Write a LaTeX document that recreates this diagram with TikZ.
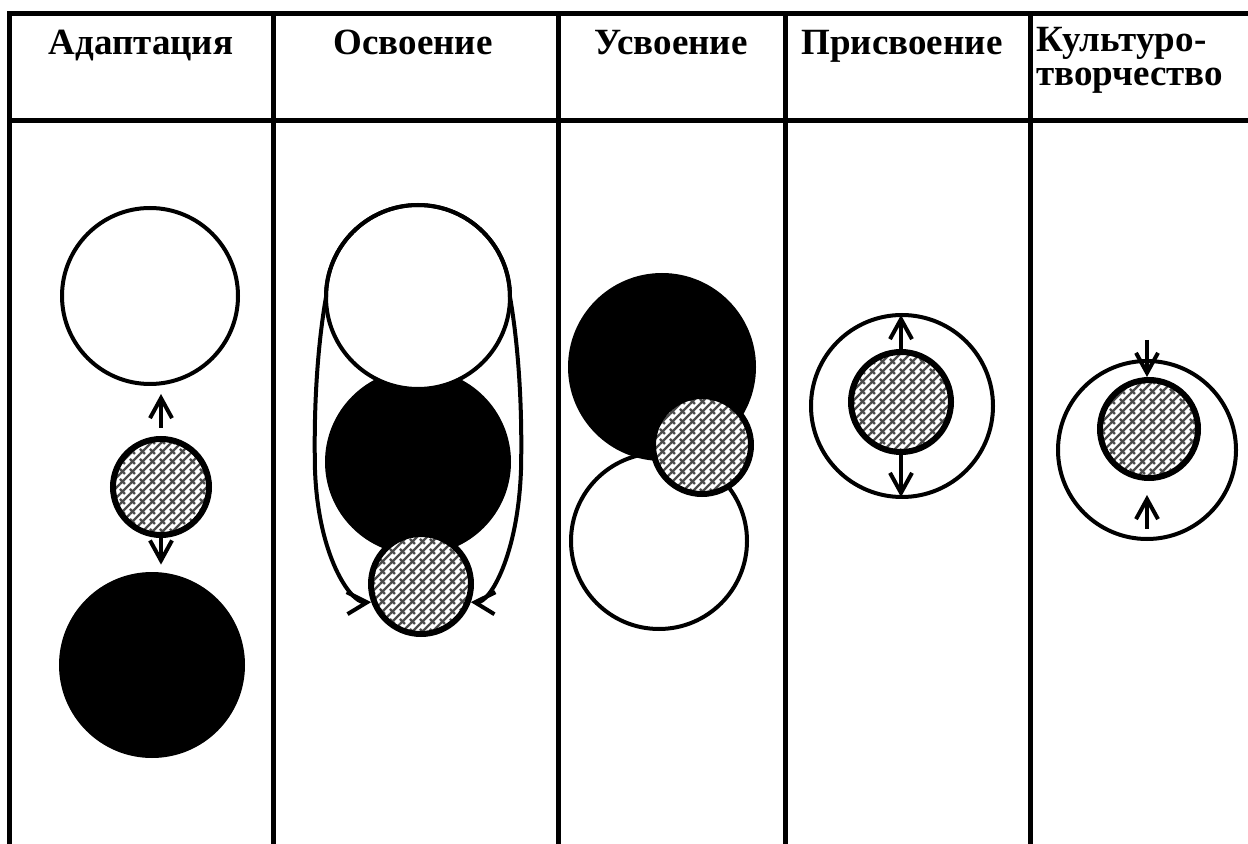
\documentclass[tikz,border=0pt]{standalone}
\usepackage{fontspec}
\setmainfont{Liberation Serif}
\usetikzlibrary{arrows.meta,patterns}

\pgfdeclarepatternformonly{weave}{\pgfqpoint{-1pt}{-1pt}}{\pgfqpoint{6pt}{6pt}}{\pgfqpoint{5pt}{5pt}}{%
  \pgfsetlinewidth{1.1pt}%
  \pgfpathmoveto{\pgfqpoint{0pt}{0pt}}\pgfpathlineto{\pgfqpoint{5pt}{5pt}}%
  \pgfpathmoveto{\pgfqpoint{2.5pt}{0pt}}\pgfpathlineto{\pgfqpoint{0pt}{2.5pt}}%
  \pgfusepath{stroke}}

\begin{document}
\begin{tikzpicture}[x=0.5pt,y=-0.5pt,
   >={Straight Barb[length=10pt,width=11pt]},
   rule/.style={line width=2.5pt},
   head/.style={font=\bfseries\fontsize{18.5}{17}\selectfont,inner sep=0pt},
   whitedisc/.style={circle,draw,line width=2pt,fill=white,inner sep=0pt,outer sep=0pt},
   blackdisc/.style={circle,fill=black,inner sep=0pt},
   weavedisc/.style={circle,draw,line width=3pt,inner sep=0pt,preaction={fill=white},pattern=weave,pattern color=black!70},
   ring/.style={circle,draw,line width=2pt,inner sep=0pt},
   link/.style={->,line width=2pt}]

         \useasboundingbox (0,0) rectangle (1248,844);

         % table
         \draw [rule] (7,14) -- (1248,14);
         \draw [rule] (7,121) -- (1248,121);
         \foreach \x in {9,273,558,785,1030} \draw [rule] (\x,12) -- (\x,844);

         \node [head,anchor=base] (t1) at (141,55) {Адаптация};
         \node [head,anchor=base] (t2) at (413,55) {Освоение};
         \node [head,anchor=base] (t3) at (671,55) {Усвоение};
         \node [head,anchor=base] (t4) at (902,55) {Присвоение};
         \node [head,anchor=north west,align=left] (t5) at (1036,27) {Культуро-\\творчество};

         % column 1
         \node [whitedisc,minimum size=88pt] (w1) at (150,296) {};
         \node [weavedisc,minimum size=48pt] (h1) at (161,487) {};
         \node [blackdisc,minimum size=93pt] (b1) at (152,665) {};
         \draw [link,shorten <=4pt,shorten >=5pt] (h1.north) -- (h1.north |- w1.south);
         \draw [link,shorten >=3.5pt] (h1.south) -- (h1.south |- b1.north);

         % column 2
         \node [blackdisc,minimum size=93pt] (b2) at (418,462) {};
         \node [whitedisc,minimum size=92pt] (w2) at (418,297) {};
         \node [weavedisc,minimum size=50pt] (h2) at (421,584) {};
         \draw [<->,line width=2pt] (h2.200) .. controls (350,603) and (318,555) .. (315,470)
               .. controls (313,380) and (322,320) .. (w2.west)
               arc [start angle=180,end angle=360,radius=92]
               .. controls (514,320) and (523,380) .. (521,470)
               .. controls (518,555) and (490,603) .. (h2.340);

         % column 3
         \node [whitedisc,minimum size=88pt] (w3) at (659,541) {};
         \node [blackdisc,minimum size=94pt] (b3) at (662,367) {};
         \node [weavedisc,minimum size=49pt] (h3) at (702,445) {};

         % column 4
         \node [ring,minimum size=91pt] (o4) at (902,406) {};
         \node [weavedisc,minimum size=50pt] (h4) at (901,402) {};
         \draw [link,shorten >=1pt] (h4.north) -- (h4.north |- o4.north);
         \draw [link,shorten >=1pt] (h4.south) -- (h4.south |- o4.south);

         % column 5
         \node [ring,minimum size=89pt] (o5) at (1147,450) {};
         \node [weavedisc,minimum size=49pt] (h5) at (1149,429) {};
         \coordinate (k5) at (1147,340);
         \draw [link] (k5) -- (k5 |- h5.north);
         \draw [link,shorten <=6pt,shorten >=7pt] (k5 |- o5.south) -- (k5 |- h5.south);

\end{tikzpicture}
\end{document}
